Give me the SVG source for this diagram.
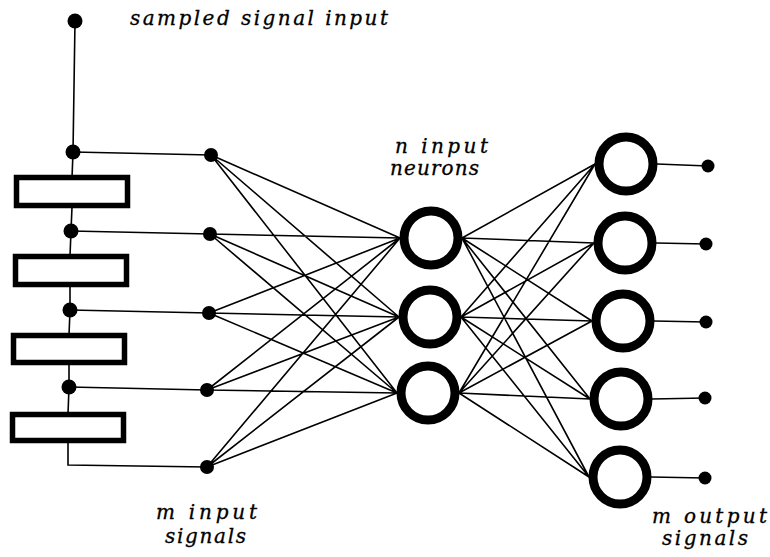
<svg xmlns="http://www.w3.org/2000/svg" width="770" height="557" viewBox="0 0 770 557">
  <style>
    .wire { stroke: #000; stroke-width: 1.6; fill: none; stroke-linecap: round; }
    .dot { fill: #000; }
    .delay { fill: #fff; stroke: #000; stroke-width: 5.5; }
    .neuron { fill: #fff; stroke: #000; stroke-width: 9; }
    .lbl { font-family: "DejaVu Serif", "Liberation Serif", serif; font-style: italic; font-size: 20px; fill: #000; stroke: #000; stroke-width: 0.3; }
  </style>

  <!-- connectors -->
  <g id="connectors">
    <!-- delay line: input tap chain -->
    <path class="wire" d="M75,21 L73,152 L72,178 M72,207 L71,231 L70,256 M70,286 L70,310 L69,335 M69,364 L69,387 L68,414 M68,442 L68,465 L207,467"/>
    <!-- taps to input signal nodes -->
    <path class="wire" d="M73,152 L211,155 M71,231 L210,234 M70,310 L209,313 M69,387 L207,390"/>
    <!-- input signals to input neurons -->
    <path class="wire" d="
      M211,155 L400,238 M211,155 L399,317 M211,155 L397,393
      M210,234 L400,238 M210,234 L399,317 M210,234 L397,393
      M209,313 L400,238 M209,313 L399,317 M209,313 L397,393
      M207,390 L400,238 M207,390 L399,317 M207,390 L397,393
      M207,467 L400,238 M207,467 L399,317 M207,467 L397,393"/>
    <!-- input neurons to output neurons -->
    <path class="wire" d="
      M462,238 L595,164 M462,238 L594,243 M462,238 L592,321 M462,238 L590,399 M462,238 L589,477
      M461,317 L595,164 M461,317 L594,243 M461,317 L592,321 M461,317 L590,399 M461,317 L589,477
      M459,393 L595,164 M459,393 L594,243 M459,393 L592,321 M459,393 L590,399 M459,393 L589,477"/>
    <!-- output neurons to output signals -->
    <path class="wire" d="M657,164 L708,166 M656,243 L706,244 M654,321 L706,322 M652,399 L705,398 M651,477 L705,478"/>
  </g>

  <!-- signal source and taps -->
  <g id="source"><circle class="dot" cx="75" cy="21" r="7.5"/></g>
  <g id="tap1"><circle class="dot" cx="73" cy="152" r="7.5"/></g>
  <g id="tap2"><circle class="dot" cx="71" cy="231" r="7.5"/></g>
  <g id="tap3"><circle class="dot" cx="70" cy="310" r="7.5"/></g>
  <g id="tap4"><circle class="dot" cx="69" cy="387" r="7.5"/></g>

  <!-- delay elements -->
  <g id="delay1"><rect class="delay" x="16.5" y="177.5" width="111" height="28"/></g>
  <g id="delay2"><rect class="delay" x="15.5" y="256.5" width="111" height="28"/></g>
  <g id="delay3"><rect class="delay" x="13.5" y="335.5" width="111" height="27"/></g>
  <g id="delay4"><rect class="delay" x="12.5" y="414.5" width="111" height="26"/></g>

  <!-- input signal nodes -->
  <g id="in1"><circle class="dot" cx="211" cy="155" r="7"/></g>
  <g id="in2"><circle class="dot" cx="210" cy="234" r="7"/></g>
  <g id="in3"><circle class="dot" cx="209" cy="313" r="7"/></g>
  <g id="in4"><circle class="dot" cx="207" cy="390" r="7"/></g>
  <g id="in5"><circle class="dot" cx="207" cy="467" r="7"/></g>

  <!-- input neurons -->
  <g id="h1"><circle class="neuron" cx="431" cy="238" r="27"/></g>
  <g id="h2"><circle class="neuron" cx="430" cy="317" r="27"/></g>
  <g id="h3"><circle class="neuron" cx="428" cy="393" r="27"/></g>

  <!-- output neurons -->
  <g id="o1"><circle class="neuron" cx="626" cy="164" r="27"/></g>
  <g id="o2"><circle class="neuron" cx="625" cy="243" r="27"/></g>
  <g id="o3"><circle class="neuron" cx="623" cy="321" r="27"/></g>
  <g id="o4"><circle class="neuron" cx="621" cy="399" r="27"/></g>
  <g id="o5"><circle class="neuron" cx="620" cy="477" r="27"/></g>

  <!-- output signal nodes -->
  <g id="out1"><circle class="dot" cx="708" cy="166" r="6.5"/></g>
  <g id="out2"><circle class="dot" cx="706" cy="244" r="6.5"/></g>
  <g id="out3"><circle class="dot" cx="706" cy="322" r="6.5"/></g>
  <g id="out4"><circle class="dot" cx="705" cy="398" r="6.5"/></g>
  <g id="out5"><circle class="dot" cx="705" cy="478" r="6.5"/></g>

  <!-- labels -->
  <g id="labels">
    <text class="lbl" x="130" y="25" textLength="258" lengthAdjust="spacing">sampled  signal  input</text>
    <text class="lbl" x="395" y="153" textLength="93" lengthAdjust="spacing">n  input</text>
    <text class="lbl" x="390" y="175" textLength="89" lengthAdjust="spacing">neurons</text>
    <text class="lbl" x="156" y="519" textLength="101" lengthAdjust="spacing">m  input</text>
    <text class="lbl" x="165" y="543" textLength="81" lengthAdjust="spacing">signals</text>
    <text class="lbl" x="652" y="523" textLength="115" lengthAdjust="spacing">m  output</text>
    <text class="lbl" x="662" y="545" textLength="86" lengthAdjust="spacing">signals</text>
  </g>
</svg>
